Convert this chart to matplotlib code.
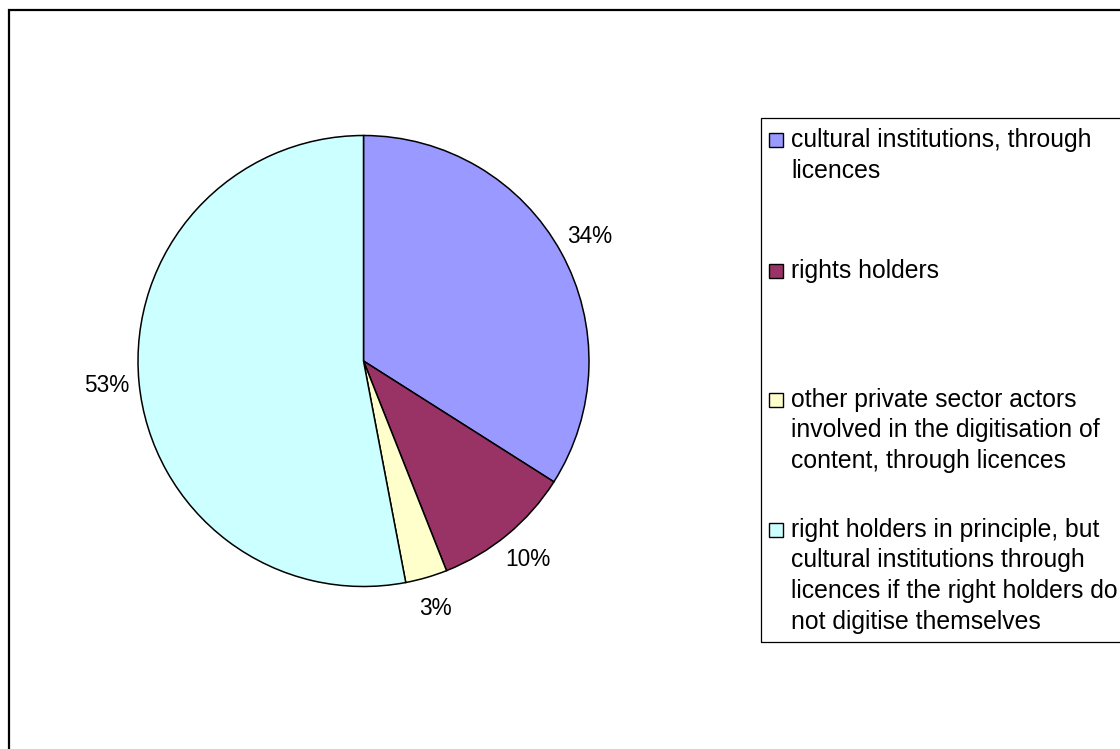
import matplotlib
matplotlib.use("Agg")
import matplotlib.pyplot as plt
from matplotlib.patches import Rectangle

plt.rcParams['font.family'] = ['Liberation Sans', 'DejaVu Sans']

# Who should digitise the content – shares of responses
categories = [
    "cultural institutions, through\nlicences",
    "rights holders",
    "other private sector actors\ninvolved in the digitisation of\ncontent, through licences",
    "right holders in principle, but\ncultural institutions through\nlicences if the right holders do\nnot digitise themselves",
]
shares = [34, 10, 3, 53]
colors = ["#9999FF", "#993366", "#FFFFCC", "#CCFFFF"]

W, H = 1120, 749
fig = plt.figure(figsize=(W / 100, H / 100), dpi=100)


def fx(px):
    return px / W


def fy(py):
    return 1 - py / H


# Pie axes: centre (363.5, 361) px, radius 225.5 px
cx, cy, r = 363.5, 361.0, 225.5
ax = fig.add_axes([fx(cx - r), fy(cy + r), 2 * r / W, 2 * r / H])
wedges, texts, autotexts = ax.pie(
    shares,
    colors=colors,
    startangle=90,
    counterclock=False,
    autopct='%1.0f%%',
    pctdistance=1.145,
    wedgeprops=dict(edgecolor='black', linewidth=1.1),
    textprops=dict(fontsize=16.3, color='black'),
)
ax.set_xlim(-1, 1)
ax.set_ylim(-1, 1)
ax.set_aspect('equal')

# Outer chart frame (left and top edges visible)
fig.patches.append(Rectangle((fx(8.5), fy(760)), fx(1130) - fx(8.5), fy(9.5) - fy(760),
                             transform=fig.transFigure, fill=False,
                             edgecolor='black', linewidth=1.6))

# Legend box
fig.patches.append(Rectangle((fx(761), fy(641.5)), fx(1130) - fx(761), fy(118) - fy(641.5),
                             transform=fig.transFigure, fill=False,
                             edgecolor='black', linewidth=0.9))

# Legend entries: square, then label lines stacked from the first baseline
sq = 14
line_step = 30.5
square_tops = [133, 264, 393, 523]
for label, col, top in zip(categories, colors, square_tops):
    fig.patches.append(Rectangle((fx(769.5), fy(top + sq)), sq / W, sq / H,
                                 transform=fig.transFigure, facecolor=col,
                                 edgecolor='black', linewidth=1.0))
    for i, line in enumerate(label.split("\n")):
        fig.text(fx(791), fy(top + sq + i * line_step), line, fontsize=17.8,
                 ha='left', va='baseline', color='black')

fig.savefig("out.png", dpi=100, facecolor='white')
